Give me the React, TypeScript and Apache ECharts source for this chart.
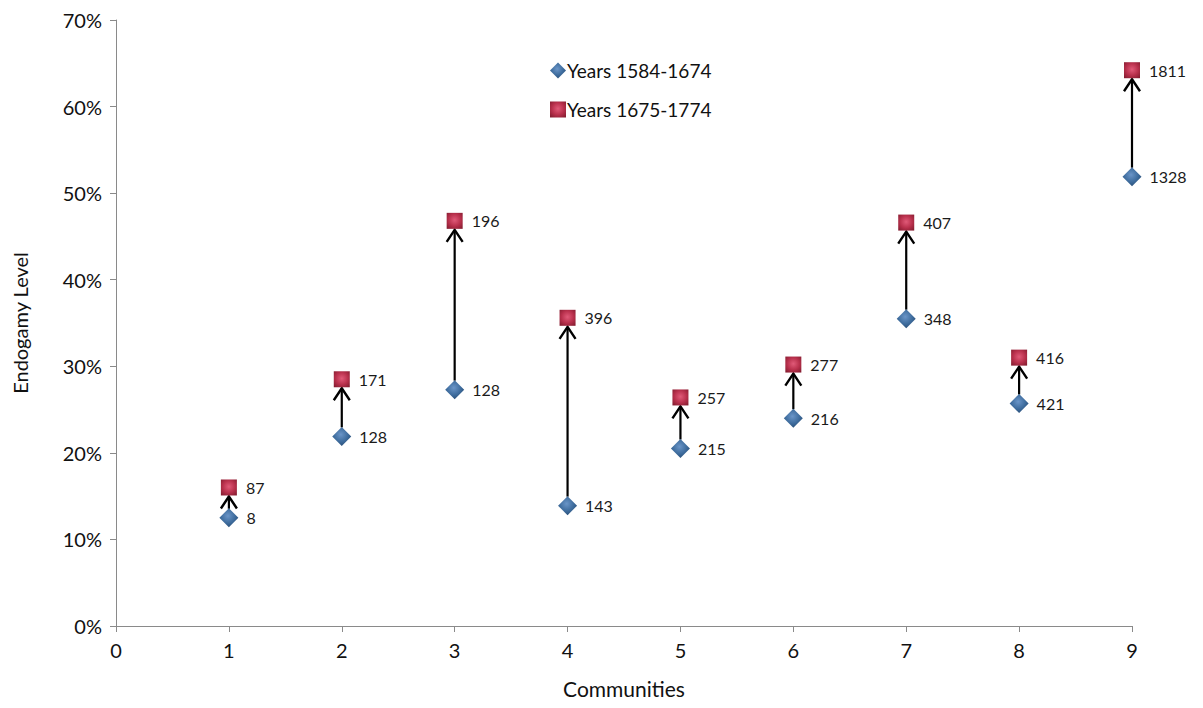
import React, { useEffect, useRef } from "react";
import * as echarts from "echarts";

const communities = [1, 2, 3, 4, 5, 6, 7, 8, 9];
const early = [12.5, 21.9, 27.3, 13.9, 20.5, 24.0, 35.5, 25.7, 51.9];
const late = [16.0, 28.5, 46.8, 35.6, 26.4, 30.2, 46.6, 31.0, 64.2];
const earlyCounts = [8, 128, 128, 143, 215, 216, 348, 421, 1328];
const lateCounts = [87, 171, 196, 396, 257, 277, 407, 416, 1811];
const xTicks = [0, 1, 2, 3, 4, 5, 6, 7, 8, 9];
const yTicks = [0, 10, 20, 30, 40, 50, 60, 70];

const FONT = "Lato, 'Open Sans', sans-serif";

export default function App() {
  const ref = useRef<HTMLDivElement>(null);
  useEffect(() => {
    document.body.style.margin = "0";
    if (!ref.current) return;
    const chart = echarts.init(ref.current, null, { renderer: "svg" });
    const blueGrad = new echarts.graphic.RadialGradient(0.45, 0.4, 0.7, [
      { offset: 0, color: "#6a95c8" },
      { offset: 0.55, color: "#3d6b9c" },
      { offset: 1, color: "#24466c" },
    ]);
    const redGrad = new echarts.graphic.RadialGradient(0.5, 0.45, 0.7, [
      { offset: 0, color: "#e05a78" },
      { offset: 0.55, color: "#b8304c" },
      { offset: 1, color: "#821c2f" },
    ]);
    const arrowData = communities.map((c, i) => [c, early[i], late[i]]);
    chart.setOption({
      animation: false,
      textStyle: { fontFamily: FONT },
      grid: { left: 116, right: 71, top: 20, bottom: 82 },
      legend: {
        orient: "vertical",
        left: 545,
        top: 56,
        itemGap: 20,
        itemWidth: 16,
        itemHeight: 16,
        data: [
          { name: "Years 1584-1674", icon: "diamond" },
          { name: "Years 1675-1774", icon: "rect" },
        ],
        textStyle: { fontSize: 19, color: "#111", fontFamily: FONT, padding: [0, 0, 0, -4] },
      },
      xAxis: {
        type: "value",
        min: xTicks[0],
        max: xTicks[xTicks.length - 1],
        interval: 1,
        name: "Communities",
        nameLocation: "middle",
        nameGap: 52,
        nameTextStyle: { fontSize: 21, color: "#111", fontFamily: FONT },
        axisLine: { show: true, lineStyle: { color: "#8a8a8a", width: 1 } },
        axisTick: { show: true, length: 6, lineStyle: { color: "#8a8a8a" } },
        axisLabel: { fontSize: 20, color: "#111", margin: 14, fontFamily: FONT },
        splitLine: { show: false },
      },
      yAxis: {
        type: "value",
        min: yTicks[0],
        max: yTicks[yTicks.length - 1],
        interval: 10,
        name: "Endogamy Level",
        nameLocation: "middle",
        nameGap: 86,
        nameTextStyle: { fontSize: 20, color: "#111", fontFamily: FONT },
        axisLine: { show: true, lineStyle: { color: "#8a8a8a", width: 1 } },
        axisTick: { show: true, length: 6, lineStyle: { color: "#8a8a8a" } },
        axisLabel: { fontSize: 20, color: "#111", margin: 14, formatter: "{value}%", fontFamily: FONT },
        splitLine: { show: false },
      },
      series: [
        {
          type: "custom",
          name: "arrows",
          z: 1,
          silent: true,
          data: arrowData,
          renderItem: (params: any, api: any) => {
            const x = api.value(0);
            const pb = api.coord([x, api.value(1)]);
            const pr = api.coord([x, api.value(2)]);
            const tipY = pr[1] + 8;
            const startY = pb[1] - 9;
            return {
              type: "group",
              children: [
                {
                  type: "line",
                  shape: { x1: pb[0], y1: startY, x2: pr[0], y2: tipY + 1 },
                  style: { stroke: "#000", lineWidth: 2.2 },
                },
                {
                  type: "polyline",
                  shape: {
                    points: [
                      [pr[0] - 8, tipY + 13],
                      [pr[0], tipY + 1],
                      [pr[0] + 8, tipY + 13],
                    ],
                  },
                  style: { stroke: "#000", lineWidth: 2.4, fill: "none" },
                },
              ],
            };
          },
        },
        {
          type: "scatter",
          name: "Years 1584-1674",
          z: 3,
          symbol: "diamond",
          symbolSize: 19,
          itemStyle: { color: blueGrad, opacity: 1 },
          data: communities.map((c, i) => [c, early[i]]),
          label: {
            show: true,
            position: "right",
            distance: 8,
            fontSize: 16,
            color: "#1a1a1a",
            fontFamily: FONT,
            formatter: (p: any) => String(earlyCounts[p.dataIndex]),
          },
        },
        {
          type: "scatter",
          name: "Years 1675-1774",
          z: 3,
          symbol: "rect",
          symbolSize: 16,
          itemStyle: { color: redGrad, opacity: 1 },
          data: communities.map((c, i) => [c, late[i]]),
          label: {
            show: true,
            position: "right",
            distance: 9,
            fontSize: 16,
            color: "#1a1a1a",
            fontFamily: FONT,
            formatter: (p: any) => String(lateCounts[p.dataIndex]),
          },
        },
      ],
    });
    return () => chart.dispose();
  }, []);
  return <div ref={ref} style={{ width: 1203, height: 708, background: "#fff" }} />;
}
